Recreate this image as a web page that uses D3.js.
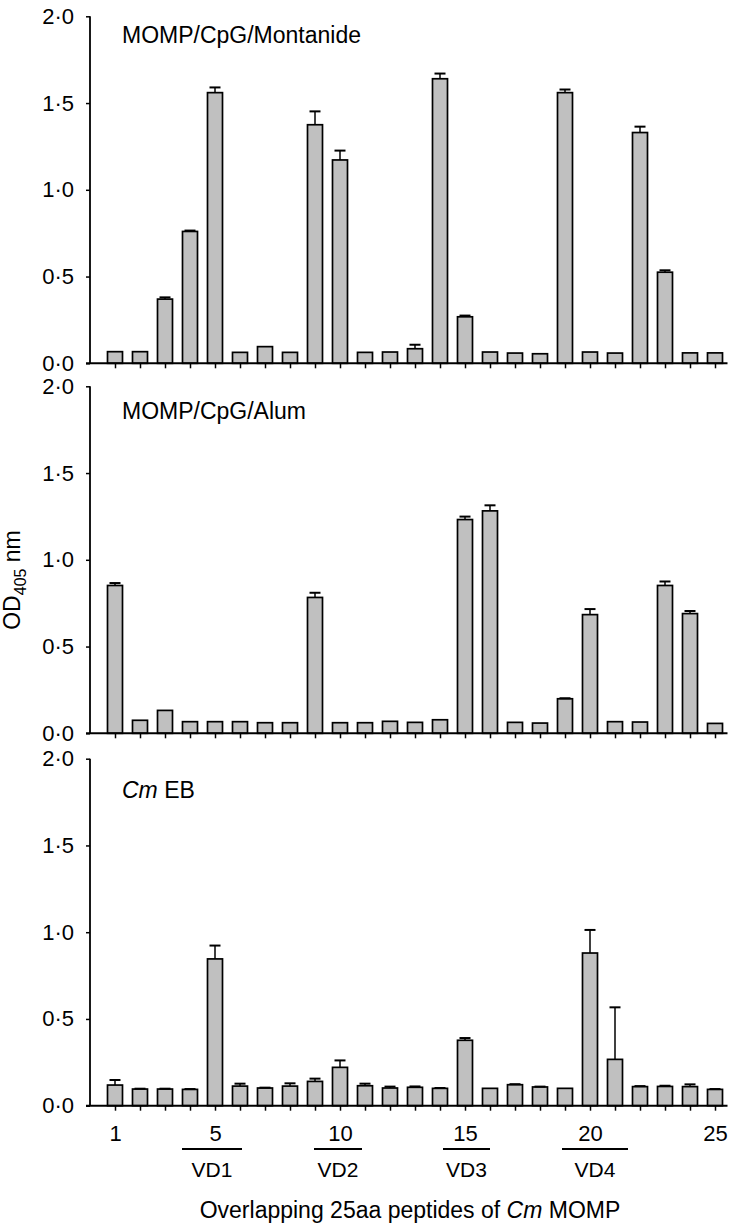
<!DOCTYPE html>
<html>
<head>
<meta charset="utf-8">
<script src="https://cdn.jsdelivr.net/npm/d3@7"></script>
<style>
  body { margin: 0; background: #fff; }
  svg text { font-family: "Liberation Sans", Arial, Helvetica, sans-serif; fill: #000; }
</style>
</head>
<body>
<svg id="chart" width="740" height="1223"></svg>
<script>
// peptide numbers (x categories)
const peptides = [1,2,3,4,5,6,7,8,9,10,11,12,13,14,15,16,17,18,19,20,21,22,23,24,25];
const xLabels = [1, 5, 10, 15, 20, 25];
const yTicks = [0, 0.5, 1.0, 1.5, 2.0];

// MOMP/CpG/Montanide
const montanideMean = [0.067,0.067,0.37,0.76,1.56,0.063,0.096,0.063,1.375,1.172,0.063,0.065,0.084,1.64,0.268,0.065,0.059,0.055,1.56,0.065,0.059,1.33,0.525,0.06,0.06];
const montanideErr  = [0,0,0.01,0.005,0.03,0,0,0,0.077,0.054,0,0,0.023,0.03,0.007,0,0,0,0.018,0,0,0.034,0.011,0,0];

// MOMP/CpG/Alum
const alumMean = [0.852,0.075,0.132,0.067,0.067,0.067,0.061,0.061,0.783,0.061,0.061,0.069,0.063,0.078,1.232,1.282,0.063,0.059,0.199,0.684,0.067,0.065,0.852,0.69,0.057];
const alumErr  = [0.014,0,0,0,0,0,0,0,0.027,0,0,0,0,0,0.017,0.032,0,0,0.003,0.032,0,0,0.023,0.015,0];

// Cm EB
const ebMean = [0.119,0.096,0.096,0.094,0.846,0.113,0.102,0.113,0.14,0.221,0.115,0.102,0.106,0.1,0.377,0.1,0.121,0.108,0.1,0.88,0.267,0.11,0.111,0.11,0.094];
const ebErr  = [0.029,0.002,0.002,0.002,0.077,0.014,0.002,0.016,0.016,0.04,0.012,0.008,0.005,0.002,0.013,0,0.003,0.002,0,0.133,0.3,0.003,0.004,0.013,0.002];

// variable domains (peptide span under the axis)
const vdNames = ["VD1", "VD2", "VD3", "VD4"];
const vdStart = [3.68, 8.96, 14.12, 18.88];
const vdEnd   = [6.08, 10.88, 16.0, 21.52];

const panels = [
  { title: "MOMP/CpG/Montanide", mean: montanideMean, err: montanideErr, zero: 363.3, titleY: 43 },
  { title: "MOMP/CpG/Alum", mean: alumMean, err: alumErr, zero: 733.3, titleY: 419 },
  { title: "Cm EB", mean: ebMean, err: ebErr, zero: 1105.7, titleY: 798 }
];

const svg = d3.select("#chart");
const x = d3.scaleLinear().domain([1, 25]).range([115, 715]);
const barW = 15, capW = 11, plotH = 347;
const fmt = d => d3.format(".1f")(d).replace(".", "\u00b7");

panels.forEach(function (p, pi) {
  const y = d3.scaleLinear().domain([0, 2]).range([p.zero, p.zero - plotH]);
  const g = svg.append("g");

  // y axis
  const ya = g.append("g")
      .attr("transform", "translate(" + x(0) + ",0)")
      .call(d3.axisLeft(y).tickValues(yTicks).tickSize(4).tickPadding(12).tickFormat(fmt));
  ya.select(".domain").attr("stroke-width", 1.8).attr("d", "M0," + y(2) + "V" + y(0));
  ya.selectAll(".tick line").attr("stroke-width", 1.5);
  ya.selectAll(".tick text").style("font-size", "22px");

  // bars
  g.selectAll("rect.bar")
    .data(peptides)
    .enter().append("rect")
      .attr("class", "bar")
      .attr("x", d => x(d) - barW / 2)
      .attr("width", barW)
      .attr("y", (d, i) => y(p.mean[i]))
      .attr("height", (d, i) => y(0) - y(p.mean[i]))
      .attr("fill", "#c0c0c0")
      .attr("stroke", "#000")
      .attr("stroke-width", 1.7);

  // error bars (upper only)
  const eb = g.selectAll("g.err")
    .data(peptides.filter((d, i) => p.err[i] > 0))
    .enter().append("g").attr("class", "err");
  eb.append("line")
      .attr("x1", d => x(d)).attr("x2", d => x(d))
      .attr("y1", d => y(p.mean[d - 1]))
      .attr("y2", d => y(p.mean[d - 1] + p.err[d - 1]))
      .attr("stroke", "#000").attr("stroke-width", 1.5);
  eb.append("line")
      .attr("x1", d => x(d) - capW / 2).attr("x2", d => x(d) + capW / 2)
      .attr("y1", d => y(p.mean[d - 1] + p.err[d - 1]))
      .attr("y2", d => y(p.mean[d - 1] + p.err[d - 1]))
      .attr("stroke", "#000").attr("stroke-width", 2);

  // x axis
  const xa = g.append("g")
      .attr("transform", "translate(0," + y(0) + ")")
      .call(d3.axisBottom(x).tickValues(peptides).tickSize(5).tickPadding(15)
        .tickFormat(d => (pi === 2 && xLabels.indexOf(d) >= 0) ? d : ""));
  xa.select(".domain").attr("stroke-width", 2).attr("d", "M" + (x(0) - 4) + ",0H" + x(25.5));
  xa.selectAll(".tick line").attr("stroke-width", 1.5);
  xa.selectAll(".tick text").style("font-size", "22px");

  // panel title
  const t = g.append("text")
      .attr("x", 122)
      .attr("y", p.titleY)
      .style("font-size", "23px");
  if (pi === 2) {
    t.append("tspan").style("font-style", "italic").text("Cm");
    t.append("tspan").text(" EB");
  } else {
    t.text(p.title);
  }
});

// VD spans under the bottom axis
const vd = svg.append("g");
vd.selectAll("line")
  .data(vdNames)
  .enter().append("line")
    .attr("x1", (d, i) => x(vdStart[i]))
    .attr("x2", (d, i) => x(vdEnd[i]))
    .attr("y1", 1149).attr("y2", 1149)
    .attr("stroke", "#000").attr("stroke-width", 1.8);
vd.selectAll("text")
  .data(vdNames)
  .enter().append("text")
    .attr("x", (d, i) => (x(vdStart[i]) + x(vdEnd[i])) / 2)
    .attr("y", 1177)
    .attr("text-anchor", "middle")
    .style("font-size", "21px")
    .text(d => d);

// x axis title
const xt = svg.append("text")
    .attr("x", 410).attr("y", 1218)
    .attr("text-anchor", "middle")
    .style("font-size", "23px");
xt.append("tspan").text("Overlapping 25aa peptides of ");
xt.append("tspan").style("font-style", "italic").text("Cm");
xt.append("tspan").text(" MOMP");

// y axis title
const yt = svg.append("text")
    .attr("transform", "translate(20,580) rotate(-90)")
    .attr("text-anchor", "middle")
    .style("font-size", "23px");
yt.append("tspan").text("OD");
yt.append("tspan").attr("dy", 6).style("font-size", "16px").text("405");
yt.append("tspan").attr("dy", -6).text(" nm");
</script>
</body>
</html>
